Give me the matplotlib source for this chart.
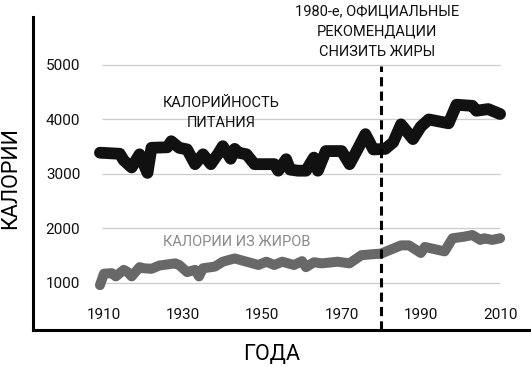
import matplotlib
matplotlib.use("Agg")
import matplotlib.pyplot as plt

plt.rcParams['font.family'] = ['Roboto', 'DejaVu Sans']

total_years = [1909, 1914, 1915, 1917, 1919, 1921, 1922, 1926, 1927, 1929, 1931, 1933, 1935,
               1937, 1939, 1940, 1942, 1943, 1944, 1946, 1948, 1953, 1954, 1956, 1957, 1959,
               1961, 1963, 1964, 1966, 1970, 1972, 1974, 1976, 1978, 1981, 1983, 1985, 1988,
               1990, 1992, 1997, 1999, 2003, 2004, 2007, 2010]
total_cal = [3390, 3370, 3250, 3120, 3360, 3020, 3480, 3490, 3600, 3480, 3450, 3180, 3360,
             3180, 3390, 3510, 3280, 3460, 3390, 3360, 3180, 3180, 3060, 3270, 3080, 3060,
             3060, 3300, 3060, 3420, 3420, 3180, 3450, 3730, 3450, 3460, 3580, 3910, 3640,
             3870, 4000, 3930, 4270, 4250, 4160, 4190, 4100]

fat_years = [1909, 1910, 1912, 1913, 1915, 1916, 1917, 1919, 1920, 1922, 1924, 1928, 1929,
             1931, 1933, 1934, 1935, 1938, 1940, 1943, 1946, 1949, 1951, 1953, 1955, 1958,
             1960, 1961, 1963, 1965, 1969, 1972, 1975, 1980, 1985, 1987, 1990, 1991, 1996,
             1998, 2001, 2003, 2005, 2006, 2008, 2010]
fat_cal = [960, 1170, 1180, 1120, 1240, 1200, 1120, 1290, 1270, 1260, 1320, 1360, 1330,
           1200, 1240, 1120, 1270, 1300, 1390, 1450, 1390, 1330, 1390, 1330, 1390, 1330,
           1400, 1290, 1380, 1360, 1390, 1360, 1510, 1540, 1690, 1690, 1550, 1660, 1580,
           1820, 1850, 1880, 1790, 1820, 1790, 1820]

y_ticks = [1000, 2000, 3000, 4000, 5000]
x_ticks = [1910, 1930, 1950, 1970, 1990, 2010]
guideline_year = 1980

label_total = "КАЛОРИЙНОСТЬ\nПИТАНИЯ"
label_fat = "КАЛОРИИ ИЗ ЖИРОВ"
label_event = "1980-е, ОФИЦИАЛЬНЫЕ\nРЕКОМЕНДАЦИИ\nСНИЗИТЬ ЖИРЫ"
ylabel = "КАЛОРИИ"
xlabel = "ГОДА"

W, H = 531, 367
fig = plt.figure(figsize=(W / 100, H / 100), dpi=100)
ax = fig.add_axes([33 / W, (H - 330) / H, (W - 33) / W, (330 - 17) / H])
ax.set_xlim(1892.1, 2017.8)
ax.set_ylim(137, 5880)

ax.hlines(y_ticks, 1909.5, 2010, color='#cccccc', lw=0.9, zorder=1)

ax.plot(fat_years, fat_cal, color='#686868', lw=7.2, solid_joinstyle='round',
        solid_capstyle='round', zorder=3)
ax.plot(total_years, total_cal, color='#111111', lw=8.5, solid_joinstyle='round',
        solid_capstyle='round', zorder=4)

ax.vlines(guideline_year, 137, 4980, color='black', lw=2.2,
          linestyles=(0, (3.0, 1.7)), zorder=5)

for s in ['top', 'right']:
    ax.spines[s].set_visible(False)
for s in ['left', 'bottom']:
    ax.spines[s].set_linewidth(2.2)
    ax.spines[s].set_color('black')

ax.set_yticks(y_ticks)
ax.set_yticklabels([str(v) for v in y_ticks])
ax.set_xticks(x_ticks)
ax.set_xticklabels([str(v) for v in x_ticks])
ax.tick_params(axis='y', length=0, pad=-34, labelsize=11, labelcolor='#111111')
ax.tick_params(axis='x', length=0, pad=-15.5, labelsize=11, labelcolor='#111111')
for t in ax.get_yticklabels():
    t.set_horizontalalignment('right')

ax.text(1939.5, 4110, label_total, ha='center', va='center', fontsize=10.5,
        color='#111111', linespacing=1.55, zorder=6)
ax.text(1943.6, 1760, label_fat, ha='center', va='center', fontsize=10.5,
        color='#8a8a8a', zorder=6)
ax.text(1979, 5610, label_event, ha='center', va='center', fontsize=10.5,
        color='#111111', linespacing=1.55, zorder=6, clip_on=False)

fig.text(11 / W, 1 - 178 / H, ylabel, rotation=90, ha='center', va='center', fontsize=15.5)
fig.text(272 / W, 1 - 355 / H, xlabel, ha='center', va='center', fontsize=15.5)

fig.savefig('out.png', dpi=100)
